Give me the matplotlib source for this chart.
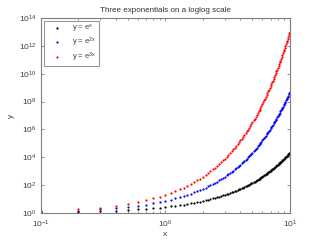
import matplotlib
matplotlib.use('Agg')
import matplotlib.pyplot as plt
from matplotlib.ticker import LogLocator, NullLocator, FixedLocator

# x = 0.1 ... 10.0 in steps of 0.1
x = [0.1, 0.2, 0.3, 0.4, 0.5, 0.6, 0.7, 0.8, 0.9, 1.0,
     1.1, 1.2, 1.3, 1.4, 1.5, 1.6, 1.7, 1.8, 1.9, 2.0,
     2.1, 2.2, 2.3, 2.4, 2.5, 2.6, 2.7, 2.8, 2.9, 3.0,
     3.1, 3.2, 3.3, 3.4, 3.5, 3.6, 3.7, 3.8, 3.9, 4.0,
     4.1, 4.2, 4.3, 4.4, 4.5, 4.6, 4.7, 4.8, 4.9, 5.0,
     5.1, 5.2, 5.3, 5.4, 5.5, 5.6, 5.7, 5.8, 5.9, 6.0,
     6.1, 6.2, 6.3, 6.4, 6.5, 6.6, 6.7, 6.8, 6.9, 7.0,
     7.1, 7.2, 7.3, 7.4, 7.5, 7.6, 7.7, 7.8, 7.9, 8.0,
     8.1, 8.2, 8.3, 8.4, 8.5, 8.6, 8.7, 8.8, 8.9, 9.0,
     9.1, 9.2, 9.3, 9.4, 9.5, 9.6, 9.7, 9.8, 9.9, 10.0]

y1 = [1.105, 1.221, 1.350, 1.492, 1.649, 1.822, 2.014, 2.226, 2.460, 2.718,
      3.004, 3.320, 3.669, 4.055, 4.482, 4.953, 5.474, 6.050, 6.686, 7.389,
      8.166, 9.025, 9.974, 11.02, 12.18, 13.46, 14.88, 16.44, 18.17, 20.09,
      22.20, 24.53, 27.11, 29.96, 33.12, 36.60, 40.45, 44.70, 49.40, 54.60,
      60.34, 66.69, 73.70, 81.45, 90.02, 99.48, 109.9, 121.5, 134.3, 148.4,
      164.0, 181.3, 200.3, 221.4, 244.7, 270.4, 298.9, 330.3, 365.0, 403.4,
      445.9, 492.7, 544.6, 601.8, 665.1, 735.1, 812.4, 897.8, 992.3, 1097,
      1212, 1339, 1480, 1636, 1808, 1998, 2208, 2441, 2697, 2981,
      3294, 3641, 4024, 4447, 4915, 5432, 6003, 6634, 7332, 8103,
      8955, 9897, 10938, 12088, 13360, 14765, 16318, 18034, 19930, 22026]

y2 = [1.221, 1.492, 1.822, 2.226, 2.718, 3.320, 4.055, 4.953, 6.050, 7.389,
      9.025, 11.02, 13.46, 16.44, 20.09, 24.53, 29.96, 36.60, 44.70, 54.60,
      66.69, 81.45, 99.48, 121.5, 148.4, 181.3, 221.4, 270.4, 330.3, 403.4,
      492.7, 601.8, 735.1, 897.8, 1097, 1339, 1636, 1998, 2441, 2981,
      3641, 4447, 5432, 6634, 8103, 9897, 12088, 14765, 18034, 22026,
      2.690e4, 3.286e4, 4.014e4, 4.902e4, 5.987e4, 7.313e4, 8.932e4, 1.091e5, 1.333e5, 1.628e5,
      1.988e5, 2.428e5, 2.966e5, 3.622e5, 4.424e5, 5.404e5, 6.600e5, 8.061e5, 9.846e5, 1.203e6,
      1.469e6, 1.794e6, 2.191e6, 2.676e6, 3.269e6, 3.993e6, 4.877e6, 5.957e6, 7.275e6, 8.886e6,
      1.085e7, 1.326e7, 1.619e7, 1.978e7, 2.415e7, 2.950e7, 3.603e7, 4.401e7, 5.376e7, 6.566e7,
      8.020e7, 9.795e7, 1.196e8, 1.461e8, 1.785e8, 2.180e8, 2.663e8, 3.252e8, 3.972e8, 4.852e8]

y3 = [1.350, 1.822, 2.460, 3.320, 4.482, 6.050, 8.166, 11.02, 14.88, 20.09,
      27.11, 36.60, 49.40, 66.69, 90.02, 121.5, 164.0, 221.4, 298.9, 403.4,
      544.6, 735.1, 992.3, 1339, 1808, 2441, 3294, 4447, 6003, 8103,
      10938, 14765, 19930, 2.690e4, 3.632e4, 4.902e4, 6.617e4, 8.932e4, 1.206e5, 1.628e5,
      2.197e5, 2.966e5, 4.003e5, 5.404e5, 7.294e5, 9.846e5, 1.329e6, 1.794e6, 2.422e6, 3.269e6,
      4.413e6, 5.957e6, 8.041e6, 1.085e7, 1.465e7, 1.978e7, 2.670e7, 3.603e7, 4.864e7, 6.566e7,
      8.863e7, 1.196e8, 1.615e8, 2.180e8, 2.943e8, 3.972e8, 5.362e8, 7.238e8, 9.770e8, 1.319e9,
      1.780e9, 2.403e9, 3.244e9, 4.379e9, 5.911e9, 7.978e9, 1.077e10, 1.454e10, 1.962e10, 2.649e10,
      3.576e10, 4.827e10, 6.515e10, 8.795e10, 1.187e11, 1.603e11, 2.163e11, 2.920e11, 3.942e11, 5.321e11,
      7.182e11, 9.695e11, 1.309e12, 1.767e12, 2.385e12, 3.219e12, 4.345e12, 5.865e12, 7.917e12, 1.069e13]

labels = ['y = e$^{x}$', 'y = e$^{2x}$', 'y = e$^{3x}$']
colors = ['black', 'blue', 'red']
y_ticks = [1e0, 1e2, 1e4, 1e6, 1e8, 1e10, 1e12, 1e14]

grey = '#7f7f7f'
txt = '#404040'
plt.rcParams['font.family'] = 'Liberation Sans'
plt.rcParams['mathtext.fontset'] = 'custom'
plt.rcParams['mathtext.rm'] = 'Liberation Sans'
plt.rcParams['mathtext.it'] = 'Liberation Sans'
plt.rcParams['mathtext.default'] = 'regular'

fig = plt.figure(figsize=(3.2, 2.4), dpi=100)
ax = fig.add_axes([0.128, 0.1125, 0.778, 0.8125])

for ys, c, lab in zip([y1, y2, y3], colors, labels):
    ax.loglog(x, ys, linestyle='none', marker='o', markersize=1.6,
              markeredgewidth=0, color=c, label=lab)

ax.set_xlim(0.1, 10)
ax.set_ylim(1, 1e14)
ax.yaxis.set_major_locator(FixedLocator(y_ticks))
ax.yaxis.set_minor_locator(NullLocator())
ax.xaxis.set_minor_locator(LogLocator(base=10, subs=range(2, 10)))

for s in ax.spines.values():
    s.set_color(grey)
    s.set_linewidth(0.8)
ax.tick_params(which='both', direction='in', top=True, right=True,
               color=grey, labelcolor=txt, labelsize=6, width=0.6)
ax.tick_params(which='major', length=2.5)
ax.tick_params(which='minor', length=1.5)
ax.tick_params(axis='x', pad=4)
ax.tick_params(axis='y', pad=3)

ax.set_title('Three exponentials on a loglog scale', fontsize=5.8, color='#303030', pad=4)
ax.set_xlabel('x', fontsize=6, color=txt, labelpad=1)
ax.set_ylabel('y', fontsize=6, color=txt, labelpad=3)

leg = ax.legend(loc='upper left', fontsize=5.5, frameon=True, fancybox=False,
                edgecolor=grey, markerscale=1.0, handlelength=2.8,
                handletextpad=0.6, borderpad=0.3, labelspacing=0.15,
                borderaxespad=0.35)
leg.get_frame().set_linewidth(0.8)
for t in leg.get_texts():
    t.set_color(txt)

fig.savefig('out.png', dpi=100)
